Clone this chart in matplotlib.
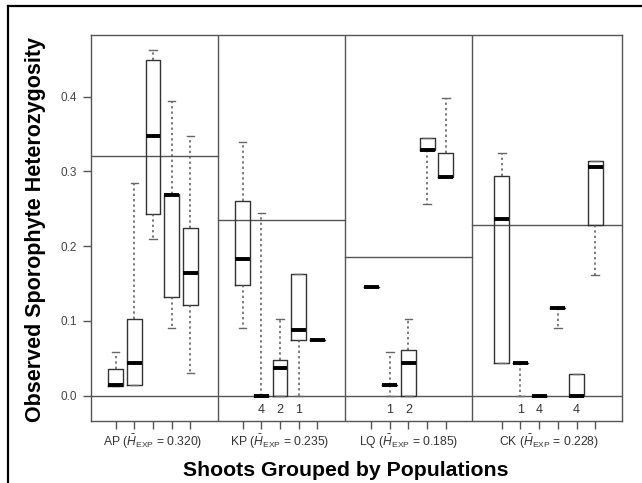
import matplotlib
matplotlib.use("Agg")
import matplotlib.pyplot as plt
from matplotlib.lines import Line2D

plt.rcParams["font.family"] = ["Liberation Sans", "DejaVu Sans"]
plt.rcParams["mathtext.fontset"] = "custom"
plt.rcParams["mathtext.rm"] = "Liberation Sans"
plt.rcParams["mathtext.it"] = "Liberation Sans:italic"

# ---- data --------------------------------------------------------------------
populations = ["AP", "KP", "LQ", "CK"]
h_exp = [0.320, 0.235, 0.185, 0.228]
n_shoots = [5, 5, 5, 6]

# one entry per shoot, in population order
whis_lo = [0.013, 0.015, 0.210, 0.090, 0.031,
           0.091, 0.000, 0.000, 0.000, 0.0745,
           0.146, 0.000, 0.000, 0.256, 0.293,
           0.044, 0.000, 0.000, 0.091, 0.000, 0.162]
q1 = [0.013, 0.015, 0.243, 0.132, 0.121,
      0.148, 0.000, 0.000, 0.0745, 0.0745,
      0.146, 0.014, 0.000, 0.329, 0.293,
      0.044, 0.044, 0.000, 0.118, 0.000, 0.229]
median = [0.015, 0.044, 0.348, 0.269, 0.164,
          0.183, 0.000, 0.037, 0.088, 0.0745,
          0.146, 0.014, 0.044, 0.329, 0.293,
          0.236, 0.044, 0.000, 0.118, 0.000, 0.306]
q3 = [0.036, 0.103, 0.449, 0.270, 0.225,
      0.260, 0.000, 0.048, 0.163, 0.0745,
      0.146, 0.014, 0.061, 0.345, 0.325,
      0.294, 0.044, 0.000, 0.118, 0.029, 0.3135]
whis_hi = [0.058, 0.284, 0.463, 0.394, 0.348,
           0.339, 0.244, 0.103, 0.163, 0.0745,
           0.146, 0.058, 0.103, 0.345, 0.398,
           0.325, 0.044, 0.000, 0.118, 0.029, 0.3135]
# sample-size notes printed under some boxes ("" = none)
count_note = ["", "", "", "", "",
              "", "4", "2", "1", "",
              "", "1", "2", "", "",
              "", "1", "4", "", "4", ""]

# ---- layout ------------------------------------------------------------------
panel_edges = [0.0, 6.8, 13.6, 20.4, 28.42]
first_pos = [1.32, 8.12, 15.0, 22.0]

positions = []
for start, n in zip(first_pos, n_shoots):
    positions += [start + k for k in range(n)]

stats = []
for i in range(len(median)):
    stats.append(dict(med=median[i], q1=q1[i], q3=q3[i],
                      whislo=whis_lo[i], whishi=whis_hi[i], fliers=[]))

fig = plt.figure(figsize=(6.42, 4.83), dpi=100)
ax = fig.add_axes([91 / 642, 1 - 421 / 483, 530.7 / 642, 386 / 483])

ax.bxp(stats, positions=positions, widths=0.8, capwidths=0.4,
       showfliers=False, manage_ticks=False,
       boxprops=dict(color="#333333", lw=1.0),
       medianprops=dict(color="black", lw=2.8, solid_capstyle="butt"),
       whiskerprops=dict(color="#555555", lw=1.1, ls=(0, (1.5, 2.0))),
       capprops=dict(color="#666666", lw=1.0))

line_col = "#555555"
ax.axhline(0.0, color=line_col, lw=1.0, zorder=0)
for j in range(len(populations)):
    ax.plot([panel_edges[j], panel_edges[j + 1]], [h_exp[j], h_exp[j]],
            color=line_col, lw=1.0, zorder=0)
for xe in panel_edges[1:-1]:
    ax.axvline(xe, color=line_col, lw=1.0, zorder=0)

for p, note in zip(positions, count_note):
    if note:
        ax.text(p, -0.0185, note, ha="center", va="center", fontsize=9,
                color="#333333")

ax.set_xlim(panel_edges[0], panel_edges[-1])
ax.set_ylim(-0.0338, 0.4825)
ax.set_xticks(positions)
ax.set_xticklabels([])
ax.set_yticks([0.0, 0.1, 0.2, 0.3, 0.4])
ax.set_yticklabels([f"{v:.1f}" for v in [0.0, 0.1, 0.2, 0.3, 0.4]])
ax.tick_params(axis="both", direction="out", length=6, width=1.0,
               color=line_col, labelsize=8.5, labelcolor="#444444")
ax.tick_params(axis="y", pad=4)
for sp in ax.spines.values():
    sp.set_color(line_col)
    sp.set_linewidth(1.0)

for j, pop in enumerate(populations):
    xc = (positions[sum(n_shoots[:j])] + positions[sum(n_shoots[:j + 1]) - 1]) / 2
    ax.annotate(f"{pop} ($\\bar{{H}}_{{\\mathrm{{EXP}}}}$ = {h_exp[j]:.3f})",
                xy=(xc, 0), xycoords=("data", "axes fraction"),
                xytext=(0, -15), textcoords="offset points",
                ha="center", va="center", fontsize=8.7, color="#333333")

fig.text(346 / 642, 1 - 470 / 483, "Shoots Grouped by Populations",
         ha="center", va="center", fontsize=15.3, fontweight="bold")
fig.text(36 / 642, 1 - 229 / 483, "Observed Sporophyte Heterozygosity",
         ha="center", va="center", rotation=90, fontsize=15.5, fontweight="bold")

# outer frame (left and top edges of the picture)
fig.add_artist(Line2D([8 / 642, 8 / 642], [0, 1 - 5.7 / 483],
                      transform=fig.transFigure, color="black", lw=1.6))
fig.add_artist(Line2D([8 / 642, 1], [1 - 5.7 / 483, 1 - 5.7 / 483],
                      transform=fig.transFigure, color="black", lw=1.6))

fig.savefig("out.png", dpi=100)
